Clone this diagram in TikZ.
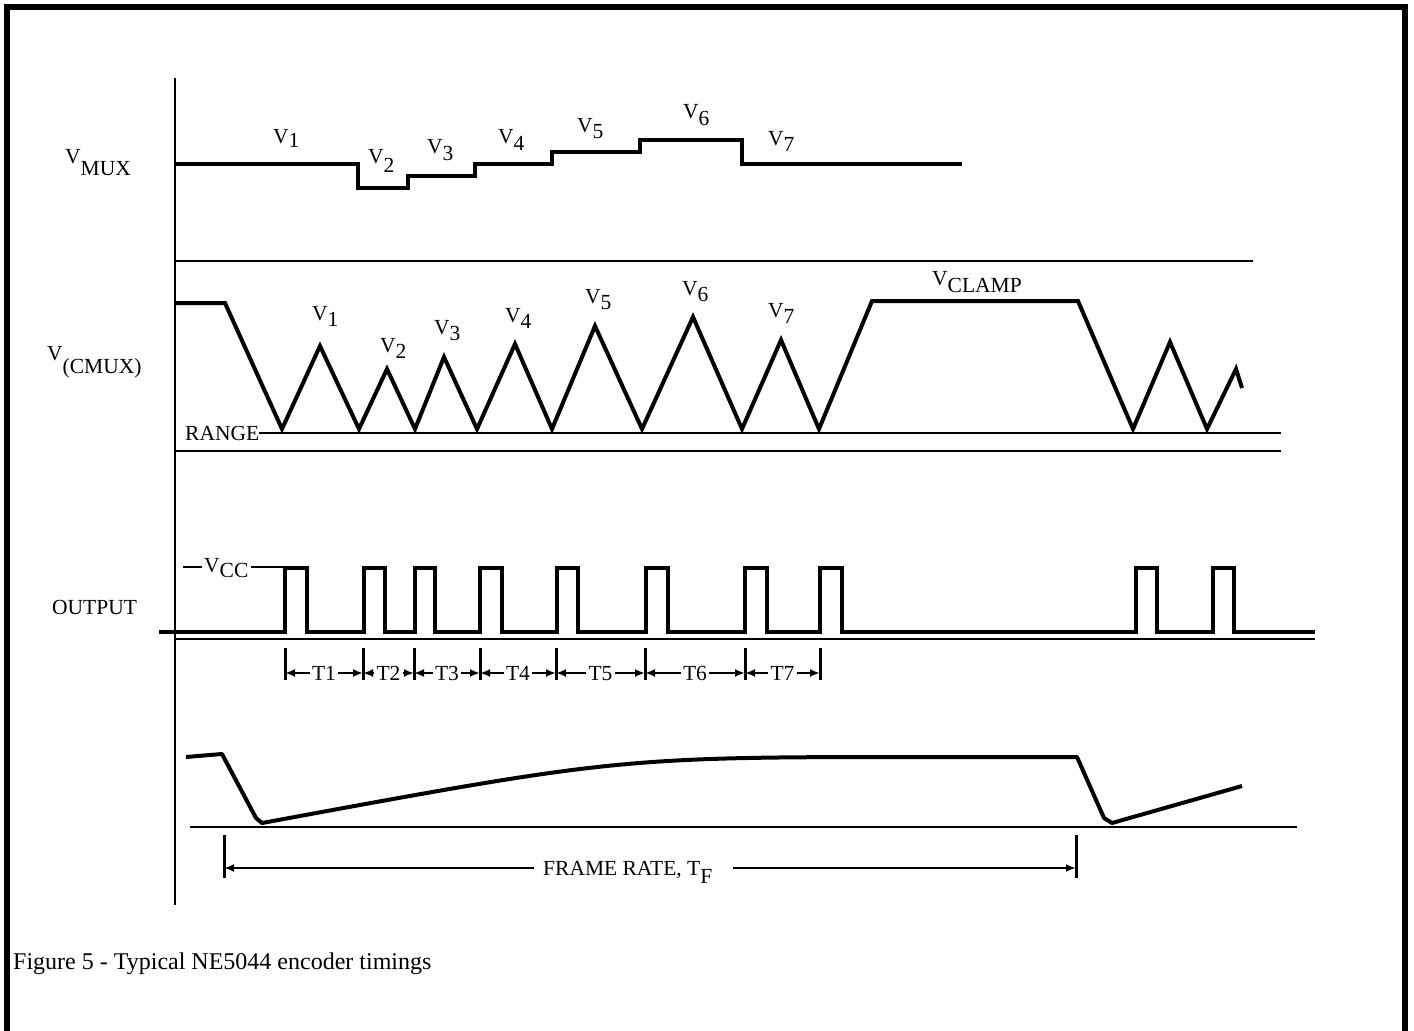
\documentclass[tikz,border=0pt]{standalone}
\usepackage{fontspec}
\setmainfont{Liberation Serif}
\usetikzlibrary{arrows.meta}
\newcommand\lowsub[2][0.35em]{\raisebox{-#1}{#2}}
\begin{document}
\begin{tikzpicture}[x=1pt,y=-1pt,
  wave/.style={line width=4pt, line join=miter},
  pulse/.style={line width=3.5pt, line join=miter},
  thinline/.style={line width=2.5pt},
  lbl/.style={font=\fontsize{21.5}{25}\selectfont, inner sep=0pt, anchor=base west},
  tlbl/.style={font=\fontsize{21.5}{25}\selectfont, inner sep=2pt, text height=14pt, text depth=0pt},
  dim/.style={line width=2.2pt, -{Latex[length=10pt,width=8pt]}},
  tickmark/.style={line width=3pt}]
\useasboundingbox (0,0) rectangle (1414,1031);
\fill[white] (0,0) rectangle (1414,1031);
% frame
\draw[line width=6pt] (7,1040) -- (7,7) -- (1405,7) -- (1405,1040);
% axis
\draw[thinline] (175,78) -- (175,905);

% ---------- V_MUX ----------
\node[lbl] (vmux) at (65,163) {V\lowsub[12pt]{MUX}};
\draw[wave] (175,164) -- (358,164) -- (358,188) -- (408,188) -- (408,176) -- (475,176)
  -- (475,164) -- (552,164) -- (552,152) -- (640,152) -- (640,140) -- (742,140)
  -- (742,164) -- (962,164);
\node[lbl] (m1) at (273,143) {V\lowsub[4pt]{1}};
\node[lbl] (m2) at (368,163) {V\lowsub[9pt]{2}};
\node[lbl] (m3) at (427,153) {V\lowsub[7pt]{3}};
\node[lbl] (m4) at (498,143) {V\lowsub[7pt]{4}};
\node[lbl] (m5) at (577,132) {V\lowsub[6pt]{5}};
\node[lbl] (m6) at (683,118) {V\lowsub[7pt]{6}};
\node[lbl] (m7) at (768,145) {V\lowsub[6pt]{7}};

\draw[thinline] (175,261) -- (1253,261);

% ---------- V(CMUX) ----------
\node[lbl] (vcmux) at (47,360) {V\lowsub[13pt]{(CMUX)}};
\draw[wave] (175,303) -- (225,303) -- (282,429) -- (320,346) -- (359,429) -- (387,369)
  -- (415,429) -- (444,357) -- (477,429) -- (515,344) -- (552,429) -- (595,326)
  -- (642,429) -- (693,317) -- (742,429) -- (781,340) -- (819,429) -- (872,301)
  -- (1078,301) -- (1133,429) -- (1170,342) -- (1207,429) -- (1236,369) -- (1242,388);
\node[lbl] (c1) at (312,320) {V\lowsub[6pt]{1}};
\node[lbl] (c2) at (380,352) {V\lowsub[6pt]{2}};
\node[lbl] (c3) at (434,334) {V\lowsub[6pt]{3}};
\node[lbl] (c4) at (505,322) {V\lowsub[6pt]{4}};
\node[lbl] (c5) at (585,303) {V\lowsub[6pt]{5}};
\node[lbl] (c6) at (682,295) {V\lowsub[6pt]{6}};
\node[lbl] (c7) at (768,317) {V\lowsub[6pt]{7}};
\node[lbl] (vclamp) at (932,285) {V\lowsub[7pt]{CLAMP}};
\node[lbl] (range) at (185,440) {RANGE};
\coordinate (rangeend) at (1281,433);
\draw[line width=2pt] (range.east |- rangeend) -- (rangeend);
\draw[thinline] (175,451) -- (1281,451);

% ---------- OUTPUT ----------
\node[lbl] (output) at (52,614) {OUTPUT};
\node[lbl, inner xsep=2pt] (vcc) at (202,572) {V\lowsub[5pt]{CC}};
\coordinate (vccl) at (183,567);
\coordinate (vccr) at (284,567);
\draw[line width=2pt] (vccl) -- (vcc.west |- vccl);
\draw[line width=2pt] (vcc.east |- vccr) -- (vccr);
\draw[pulse] (159,632)
  -- (285,632) -- (285,568) -- (307,568) -- (307,632)
  -- (364,632) -- (364,568) -- (385,568) -- (385,632)
  -- (415,632) -- (415,568) -- (435,568) -- (435,632)
  -- (480,632) -- (480,568) -- (502,568) -- (502,632)
  -- (557,632) -- (557,568) -- (578,568) -- (578,632)
  -- (646,632) -- (646,568) -- (668,568) -- (668,632)
  -- (745,632) -- (745,568) -- (767,568) -- (767,632)
  -- (820,632) -- (820,568) -- (842,568) -- (842,632)
  -- (1136,632) -- (1136,568) -- (1157,568) -- (1157,632)
  -- (1213,632) -- (1213,568) -- (1234,568) -- (1234,632)
  -- (1315,632);
\draw[thinline] (175,639) -- (1315,639);

% T markers
\foreach \n/\x in {0/285,1/363,2/414,3/480,4/556,5/645,6/745,7/820}{
  \coordinate (tk\n) at (\x,673);
  \draw[tickmark] (\x,648) -- (\x,680);
}
\foreach \i/\a/\b in {1/0/1,2/1/2,3/2/3,4/3/4,5/4/5,6/5/6,7/6/7}{
  \path (tk\a) -- (tk\b) node[midway, tlbl] (t\i) {T\i};
  \draw[dim] (t\i.west) -- (tk\a);
  \draw[dim] (t\i.east) -- (tk\b);
}

% ---------- frame rate ----------
\draw[wave, line join=round] (186,757) -- (222,754) -- (256,818) -- (262,823)
  .. controls (620,757) .. (930,757) -- (1077,757) -- (1104,818) -- (1112,823) -- (1242,786);
\draw[thinline] (190,827) -- (1297,827);
\coordinate (frl) at (224,868);
\coordinate (frr) at (1076,868);
\draw[tickmark] (224,835) -- (224,878);
\draw[tickmark] (1076,835) -- (1076,878);
\node[lbl, inner xsep=9pt] (fr) at (534,875) {FRAME RATE, T\lowsub[8pt]{F}};
\draw[dim] (fr.west |- frl) -- (frl);
\draw[dim] ([xshift=12pt]fr.east |- frr) -- (frr);

% caption
\node[lbl, font=\fontsize{24}{28}\selectfont] (caption) at (13,969) {Figure 5 - Typical NE5044 encoder timings};
\end{tikzpicture}
\end{document}
